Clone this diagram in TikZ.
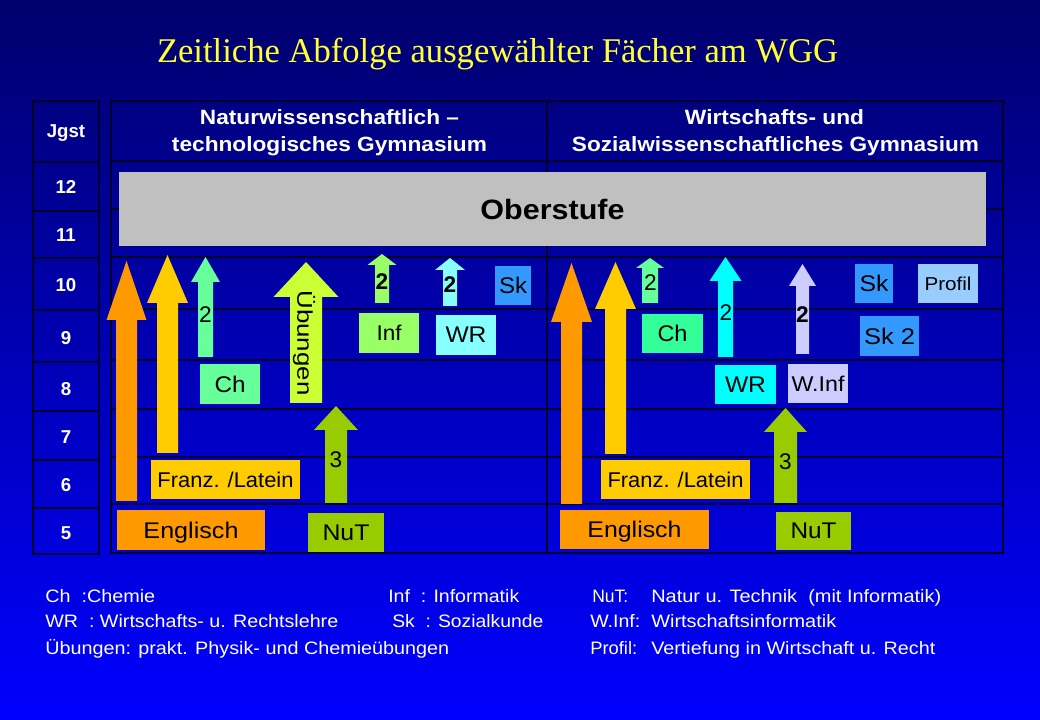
\documentclass[tikz,border=0pt]{standalone}
\usepackage{fontspec}
\setmainfont{Liberation Sans}
\newfontfamily\titlefont{Liberation Serif}

% one unit = one pixel of a 1040 x 720 canvas
\newdimen\pxu \pxu=0.75pt
\newcommand\fs[1]{\fontsize{#1}{#1}\selectfont}
\newcommand\fitw[2]{\resizebox{#1\pxu}{\height}{#2}}

% block arrow: colour, centre x, shaft half width, head half width, bottom y, head base y, tip y
\newcommand\blockarrow[7]{%
  \fill[#1] (#2-#3,#5) -- (#2+#3,#5) -- (#2+#3,#6) -- (#2+#4,#6) -- (#2,#7)
    -- (#2-#4,#6) -- (#2-#3,#6) -- cycle;}

\definecolor{bgTop}{RGB}{0,0,108}
\definecolor{bgBot}{RGB}{0,0,255}
\definecolor{gridc}{RGB}{0,0,45}
\definecolor{titleY}{HTML}{FFFF33}
\definecolor{cOrange}{HTML}{FF9900}
\definecolor{cGold}{HTML}{FFCC00}
\definecolor{cMint}{HTML}{66FF99}
\definecolor{cMintB}{HTML}{33FF99}
\definecolor{cLime}{HTML}{CCFF33}
\definecolor{cOlive}{HTML}{99CC00}
\definecolor{cLgreen}{HTML}{99FF66}
\definecolor{cLcyan}{HTML}{88FFFF}
\definecolor{cCyan}{HTML}{00FFFF}
\definecolor{cLav}{HTML}{CCCCFF}
\definecolor{cSk}{HTML}{3399FF}
\definecolor{cProf}{HTML}{99CCFF}
\definecolor{cGray}{HTML}{C0C0C0}

\begin{document}
\begin{tikzpicture}[x=0.75pt,y=-0.75pt,
  gridline/.style={draw=gridc,line width=1pt},
  subj/.style={fill=#1,inner sep=0pt,text=black,text depth=0pt},
  wh/.style 2 args={minimum width=#1*0.75pt,minimum height=#2*0.75pt},
  yr/.style={text=white,font=\bfseries\fs{14},anchor=base,inner sep=0pt},
  hdr/.style={text=white,font=\bfseries\fs{15.5},anchor=base,inner sep=0pt},
  lbl/.style={text=black,font=\fs{17},inner sep=0pt},
  legend/.style={text=white,font=\fs{13.5},anchor=base west,inner sep=0pt}]

\useasboundingbox (0,0) rectangle (1040,720);
\shade[top color=bgTop,bottom color=bgBot] (0,0) rectangle (1040,720);

% title
\node[text=titleY,anchor=base,inner sep=0pt] (title) at (497.5,63)
  {\titlefont\fs{26}\fitw{681}{Zeitliche Abfolge ausgewählter Fächer am WGG}};

% year column
\draw[gridline] (33,101) rectangle (99,554);
\foreach \yy in {162,211,258,310,362,411,460,508}
  \draw[gridline] (33,\yy) -- (99,\yy);
\node[yr] (jgst) at (66,138) {Jgst};
\node[yr] (y12) at (66,194) {12};
\node[yr] (y11) at (66,242) {11};
\node[yr] (y10) at (66,292) {10};
\node[yr] (y9)  at (66,345) {9};
\node[yr] (y8)  at (66,396) {8};
\node[yr] (y7)  at (66,444) {7};
\node[yr] (y6)  at (66,492) {6};
\node[yr] (y5)  at (66,539) {5};

% main table
\draw[gridline] (111,101) rectangle (1003,553);
\draw[gridline] (547,101) -- (547,553);
\foreach \yy in {161,209,257,309,360,409,457,504}
  \draw[gridline] (111,\yy) -- (1003,\yy);

\node[hdr] (hNa) at (329.5,125) {\fitw{259}{Naturwissenschaftlich –}};
\node[hdr] (hNb) at (329.5,152) {\fitw{315}{technologisches Gymnasium}};
\node[hdr] (hWa) at (774.5,125) {\fitw{179}{Wirtschafts- und}};
\node[hdr] (hWb) at (775.5,152) {\fitw{407}{Sozialwissenschaftliches Gymnasium}};

% upper school band
\node[subj=cGray,wh={867}{74}] (ober) at (552.5,209)
  {\bfseries\fs{21}\fitw{144}{Oberstufe}};

% ---- left branch: arrows
\blockarrow{cOrange}{126.5}{10.5}{20}{501}{320}{261}
\blockarrow{cGold}{167.5}{10.5}{20.5}{453}{303}{255}
\blockarrow{cMint}{205.5}{7.5}{14.5}{357}{282}{257}
\blockarrow{cLime}{306}{16}{32.5}{403}{297}{262}
\blockarrow{cOlive}{336}{11}{22}{503}{430}{406}
\blockarrow{cLgreen}{382}{7}{14.5}{303}{265}{254}
\blockarrow{cLcyan}{450}{7}{15}{306}{270}{258}

\node[lbl] (aChL) at (205.5,315) {2};
\node[lbl,rotate=-90] (aUeb) at (304,343) {\fs{16}\fitw{105}{Übungen}};
\node[lbl] (aNuTL) at (336,460) {3};
\node[lbl,font=\bfseries\fs{17}] (aInf) at (382,282) {2};
\node[lbl,font=\bfseries\fs{17}] (aWRL) at (450,285) {2};

% ---- left branch: subjects
\node[subj=cOrange,wh={148}{40}] (engL) at (191,530) {\fs{17}\fitw{95}{Englisch}};
\node[subj=cGold,wh={149}{39}] (franzL) at (225.5,479.5) {\fs{16}\fitw{136}{Franz. /Latein}};
\node[subj=cMint,wh={60}{40}] (chL) at (230,384) {\fs{17}\fitw{31}{Ch}};
\node[subj=cOlive,wh={76}{39}] (nutL) at (346,532.5) {\fs{17}\fitw{47}{NuT}};
\node[subj=cLgreen,wh={60}{40}] (inf) at (389,333) {\fs{16}\fitw{25}{Inf}};
\node[subj=cLcyan,wh={60}{40}] (wrL) at (466,335) {\fs{17}\fitw{41}{WR}};
\node[subj=cSk,wh={36}{39}] (skL) at (513,285.5) {\fs{17}\fitw{28}{Sk}};

% ---- right branch: arrows
\blockarrow{cOrange}{571.5}{10.5}{20.5}{504}{322}{263}
\blockarrow{cGold}{615.5}{10.5}{20.5}{454}{309}{262}
\blockarrow{cMint}{650}{8}{14}{303}{268}{258}
\blockarrow{cCyan}{725.5}{7.5}{16}{357}{281}{257}
\blockarrow{cLav}{802.5}{6.5}{13.5}{354}{286}{264}
\blockarrow{cOlive}{785.5}{11.5}{21.5}{503}{432}{408}

\node[lbl] (aChR) at (650.5,283) {2};
\node[lbl] (aWRR) at (726,313) {2};
\node[lbl,font=\bfseries\fs{17}] (aWInf) at (802.5,315) {2};
\node[lbl] (aNuTR) at (785.5,462) {3};

% ---- right branch: subjects
\node[subj=cOrange,wh={149}{39}] (engR) at (634.5,529.5) {\fs{17}\fitw{94}{Englisch}};
\node[subj=cGold,wh={149}{39}] (franzR) at (675.5,479.5) {\fs{16}\fitw{136}{Franz. /Latein}};
\node[subj=cMintB,wh={61}{39}] (chR) at (672.5,333.5) {\fs{17}\fitw{30}{Ch}};
\node[subj=cCyan,wh={61}{39}] (wrR) at (745.5,384.5) {\fs{17}\fitw{41}{WR}};
\node[subj=cLav,wh={60}{39}] (winf) at (818,383.5) {\fs{16}\fitw{53}{W.Inf}};
\node[subj=cOlive,wh={75}{38}] (nutR) at (813.5,531) {\fs{17}\fitw{46}{NuT}};
\node[subj=cSk,wh={38}{39}] (skR) at (874,283.5) {\fs{17}\fitw{29}{Sk}};
\node[subj=cProf,wh={60}{39}] (profil) at (948,283.5) {\fs{14}\fitw{47}{Profil}};
\node[subj=cSk,wh={59}{40}] (sk2) at (889.5,336) {\fs{17}\fitw{51}{Sk 2}};

% legend
\node[legend] (lgCh) at (45,602) {\fitw{110}{Ch~~:Chemie}};
\node[legend] (lgWR) at (45,627) {\fitw{293}{WR~~: Wirtschafts- u. Rechtslehre}};
\node[legend] (lgUeb) at (45,654) {\fitw{404}{Übungen: prakt. Physik- und Chemieübungen}};
\node[legend] (lgInf) at (388,602) {\fitw{131}{Inf~~: Informatik}};
\node[legend] (lgSk) at (392,627) {\fitw{151}{Sk~~: Sozialkunde}};
\node[legend] (lgNuT) at (592,602) {\fitw{36}{NuT:}};
\node[legend] (lgNuTd) at (651,602) {\fitw{290}{Natur u. Technik~~(mit Informatik)}};
\node[legend] (lgWInf) at (590,627) {\fitw{50}{W.Inf:}};
\node[legend] (lgWInfd) at (651,627) {\fitw{185}{Wirtschaftsinformatik}};
\node[legend] (lgPro) at (590,654) {\fitw{47}{Profil:}};
\node[legend] (lgProd) at (651,654) {\fitw{284}{Vertiefung in Wirtschaft u. Recht}};
\end{tikzpicture}
\end{document}
